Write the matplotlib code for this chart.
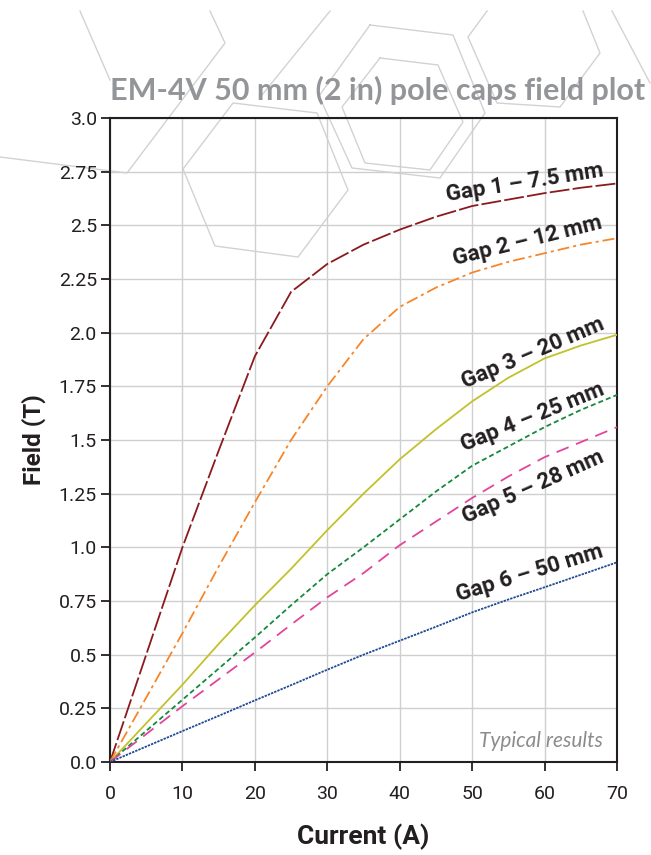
import numpy as np
import matplotlib
matplotlib.use("Agg")
import matplotlib.pyplot as plt
from matplotlib.lines import Line2D

# field (T) versus current (A) for each pole gap
current = [0, 5, 10, 15, 20, 25, 30, 35, 40, 45, 50, 55, 60, 65, 70]
gap1 = [0, 0.50, 1.00, 1.45, 1.89, 2.19, 2.32, 2.41, 2.48, 2.54, 2.59, 2.62, 2.65, 2.675, 2.695]
gap2 = [0, 0.30, 0.60, 0.91, 1.21, 1.50, 1.75, 1.97, 2.12, 2.21, 2.28, 2.33, 2.37, 2.41, 2.44]
gap3 = [0, 0.18, 0.36, 0.55, 0.73, 0.90, 1.08, 1.25, 1.41, 1.55, 1.68, 1.79, 1.88, 1.94, 1.99]
gap4 = [0, 0.145, 0.29, 0.435, 0.58, 0.73, 0.875, 1.00, 1.13, 1.26, 1.38, 1.47, 1.56, 1.64, 1.71]
gap5 = [0, 0.13, 0.26, 0.385, 0.51, 0.64, 0.767, 0.88, 1.01, 1.12, 1.23, 1.33, 1.42, 1.49, 1.56]
gap6 = [0, 0.072, 0.144, 0.215, 0.287, 0.358, 0.43, 0.50, 0.565, 0.63, 0.697, 0.757, 0.814, 0.872, 0.93]

series = [gap1, gap2, gap3, gap4, gap5, gap6]
labels = ["Gap 1 \u2013 7.5 mm", "Gap 2 \u2013 12 mm", "Gap 3 \u2013 20 mm",
          "Gap 4 \u2013 25 mm", "Gap 5 \u2013 28 mm", "Gap 6 \u2013 50 mm"]
colors = ["#8b1a1e", "#f7862a", "#c2c12c", "#15893c", "#e0469c", "#1f4a93"]
styles = [(0, (11, 1.8)), (0, (6.6, 2.2, 1.7, 2.2)), "-", (0, (2.8, 1.7)),
          (0, (7.2, 4.4)), (0, (1.3, 0.6))]
# label anchor (current, field) and rotation
label_pos = [(57.3, 2.70, 9), (57.7, 2.43, 14), (58.4, 1.905, 23),
             (58.4, 1.607, 22), (58.4, 1.281, 24), (58.0, 0.88, 17)]

yticks = [0, 0.25, 0.5, 0.75, 1.0, 1.25, 1.5, 1.75, 2.0, 2.25, 2.5, 2.75, 3.0]
yticklabels = ["0.0", "0.25", "0.5", "0.75", "1.0", "1.25", "1.5", "1.75",
               "2.0", "2.25", "2.5", "2.75", "3.0"]
xticks = [0, 10, 20, 30, 40, 50, 60, 70]

narrow = ["Roboto", "DejaVu Sans"]

fig = plt.figure(figsize=(6.51, 8.55), dpi=100)
W, H = 651, 855

# background hexagon decoration (pixel coords, y down)
hexes = [
    [(0, 157), (127, 173), (225, 43), (210, 11)],
    [(80, 11), (110, 80)],
    [(183, 169), (233, 103), (317, 113), (348, 190), (298, 257), (215, 246), (183, 169)],
    [(330, 11), (262, 95)],
    [(370, 25), (453, 35), (485, 113), (440, 178), (352, 168), (319, 96), (370, 25)],
    [(380, 58), (438, 65), (463, 122), (430, 170), (365, 163), (342, 107), (380, 58)],
    [(487, 11), (468, 37), (497, 103), (560, 107), (600, 53), (583, 11)],
    [(612, 11), (650, 83)],
]
for poly in hexes:
    xs = [p[0] / W for p in poly]
    ys = [1 - p[1] / H for p in poly]
    fig.add_artist(Line2D(xs, ys, transform=fig.transFigure, color="#d2d2d2",
                          lw=1.0, zorder=-1))

ax = fig.add_axes([110 / W, 1 - 762 / H, 507 / W, 644 / H])
ax.patch.set_alpha(0)

for ys, c, ls in zip(series, colors, styles):
    ax.plot(current, ys, color=c, linestyle=ls, lw=1.3, zorder=3)

for text, (x, y, rot) in zip(labels, label_pos):
    ax.text(x, y, text, rotation=rot, rotation_mode="anchor", ha="center",
            va="center", fontsize=16, fontweight="bold", family=narrow,
            color="#231f20", zorder=4)

ax.text(68.1, 0.098, "Typical results", ha="right", va="center", fontsize=15,
        style="italic", fontweight="normal", family=["Lato", "DejaVu Sans"],
        color="#8c8c8c")

ax.set_xlim(0, 70)
ax.set_ylim(0, 3.0)
ax.set_xticks(xticks)
ax.set_yticks(yticks)
ax.set_yticklabels(yticklabels)
ax.grid(True, color="#cfcfcf", lw=1.0)
ax.set_axisbelow(True)
for sp in ax.spines.values():
    sp.set_color("#231f20")
    sp.set_linewidth(1.5)
ax.tick_params(direction="out", length=6.5, width=1.3, color="#231f20",
               labelsize=14, labelcolor="#231f20")
ax.tick_params(axis="x", pad=10)
ax.tick_params(axis="y", pad=3)
for lab in ax.get_xticklabels() + ax.get_yticklabels():
    lab.set_family(narrow)

ax.set_xlabel("Current (A)", fontsize=19, fontweight="bold", family=narrow,
              color="#231f20", labelpad=15)
ax.set_ylabel("Field (T)", fontsize=17.5, fontweight="bold", family=narrow,
              color="#231f20", labelpad=9)

fig.text(110 / W, 1 - 100 / H, "EM-4V 50 mm (2 in) pole caps field plot",
         ha="left", va="baseline", fontsize=22, fontweight="bold",
         family=["Lato", "DejaVu Sans"], color="#939598")

fig.savefig("out.png", dpi=100)
